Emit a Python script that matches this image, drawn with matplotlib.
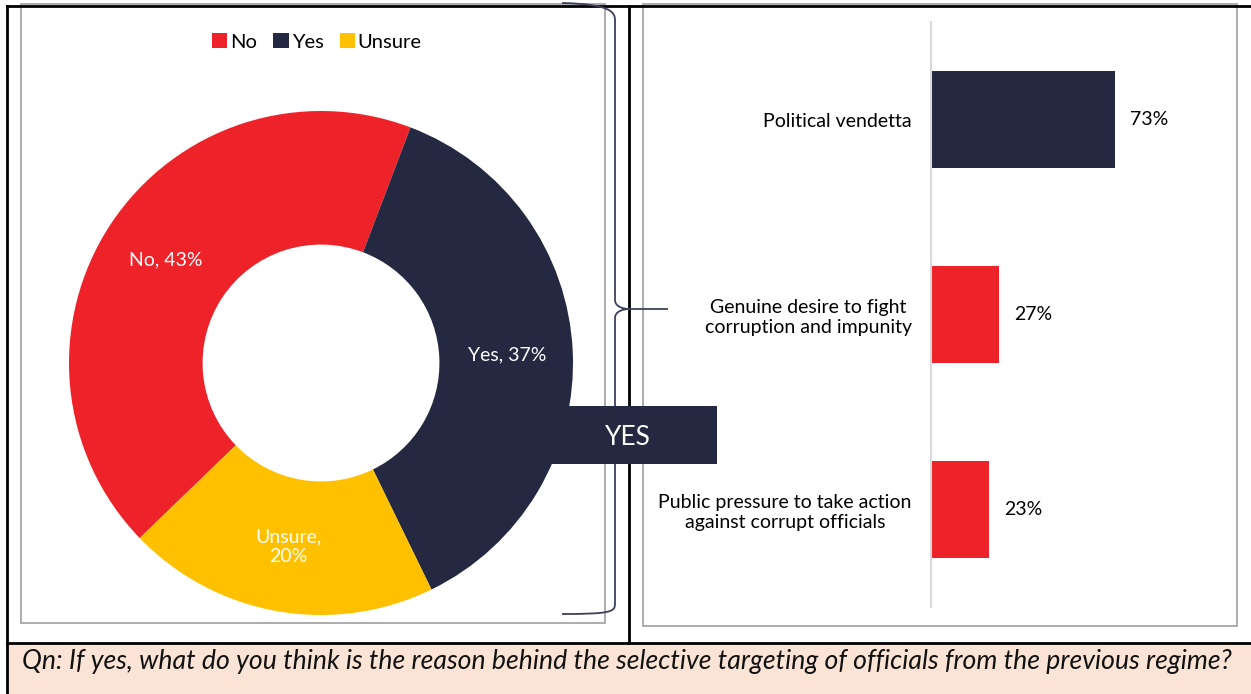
import matplotlib.pyplot as plt
from matplotlib.patches import Rectangle, PathPatch
from matplotlib.path import Path

plt.rcParams['font.family'] = ['Lato', 'DejaVu Sans']

# Data
donut_labels = ['No', 'Yes', 'Unsure']
donut_values = [43, 37, 20]
donut_texts = ['No, 43%', 'Yes, 37%', 'Unsure,\n20%']

reasons = ['Political vendetta',
           'Genuine desire to fight\ncorruption and impunity',
           'Public pressure to take action\nagainst corrupt officials']
reason_values = [73, 27, 23]

NAVY = '#242840'
RED = '#EE2229'
YELLOW = '#FFC000'
PINK = '#FBE4D6'
GRAY = '#A6A6A6'

W, H = 1251, 694
fig = plt.figure(figsize=(W / 100, H / 100), dpi=100)


def px_axes(x0, y0, x1, y1, **kw):
    # axes placed with pixel coordinates (top-left origin)
    return fig.add_axes([x0 / W, 1 - y1 / H, (x1 - x0) / W, (y1 - y0) / H], **kw)


# Background frame
bg = px_axes(0, 0, W, H)
bg.set_xlim(0, W)
bg.set_ylim(H, 0)
bg.axis('off')
bg.add_patch(Rectangle((7, 643), W, 60, facecolor=PINK, edgecolor='none'))
bg.add_patch(Rectangle((21, 4), 584, 619, facecolor='none', edgecolor=GRAY, lw=1.3))
bg.add_patch(Rectangle((643, 4), 594, 622, facecolor='none', edgecolor=GRAY, lw=1.3))
bg.plot([7, W], [6, 6], color='black', lw=2)
bg.plot([7, 7], [6, H], color='black', lw=2)
bg.plot([629, 629], [6, 643], color='black', lw=2)
bg.plot([7, W], [643, 643], color='black', lw=2)
bg.text(22, 662, 'Qn: If yes, what do you think is the reason behind the selective '
        'targeting of officials from the previous regime?',
        fontsize=19.2, style='italic', color='#111111', va='center', ha='left')

# Donut
cx, cy, r = 321, 363, 252
ax1 = px_axes(cx - r, cy - r, cx + r, cy + r)
ax1.patch.set_alpha(0)
wedges, texts = ax1.pie(donut_values, labels=donut_texts, colors=[RED, NAVY, YELLOW],
                        startangle=-136, counterclock=False, radius=1,
                        labeldistance=0.74, wedgeprops=dict(width=0.53, linewidth=0),
                        textprops=dict(color='white', fontsize=14))
for t in texts:
    t.set_ha('center')
    t.set_va('center')
    t.set_multialignment('center')
ax1.set_xlim(-1, 1)
ax1.set_ylim(-1, 1)

fig.legend(wedges, donut_labels, loc='center', bbox_to_anchor=(317 / W, 1 - 42 / H),
           ncol=3, frameon=False, fontsize=14.5, handlelength=0.75, handleheight=0.75,
           handletextpad=0.15, columnspacing=0.8)

# Bars
ax2 = px_axes(931, 22, 1231, 607)
ax2.patch.set_alpha(0)
bars = ax2.barh(reasons, reason_values, height=0.5, color=[NAVY, RED, RED])
ax2.bar_label(bars, labels=[f'{v}%' for v in reason_values], padding=11, fontsize=14)
ax2.set_xlim(0, 300 / 2.52)
ax2.set_ylim(2.5, -0.5)
ax2.set_xticks([])
ax2.tick_params(axis='y', length=0, pad=14, labelsize=14)
for lab in ax2.get_yticklabels():
    lab.set_multialignment('center')
for s in ['top', 'right', 'bottom']:
    ax2.spines[s].set_visible(False)
ax2.spines['left'].set_color('#D9D9D9')
ax2.spines['left'].set_linewidth(1.5)

# Overlay: brace and YES box
top = px_axes(0, 0, W, H)
top.set_xlim(0, W)
top.set_ylim(H, 0)
top.axis('off')
top.patch.set_alpha(0)
verts = [(562, 3), (610, 4), (615, 12), (615, 20),
         (615, 300),
         (615, 307), (624, 309), (629, 309),
         (668, 309),
         (629, 309), (624, 309), (615, 311), (615, 318),
         (615, 604),
         (615, 612), (610, 614), (562, 614)]
codes = [Path.MOVETO, Path.CURVE4, Path.CURVE4, Path.CURVE4,
         Path.LINETO,
         Path.CURVE4, Path.CURVE4, Path.CURVE4,
         Path.LINETO,
         Path.MOVETO, Path.CURVE4, Path.CURVE4, Path.CURVE4,
         Path.LINETO,
         Path.CURVE4, Path.CURVE4, Path.CURVE4]
top.add_patch(PathPatch(Path(verts, codes), facecolor='none', edgecolor='#3C405A', lw=1.3))
top.add_patch(Rectangle((545, 406), 172, 58, facecolor=NAVY, edgecolor='none'))
top.text(628, 437, 'YES', color='white', fontsize=19, ha='center', va='center')

fig.savefig('out.png', dpi=100)
